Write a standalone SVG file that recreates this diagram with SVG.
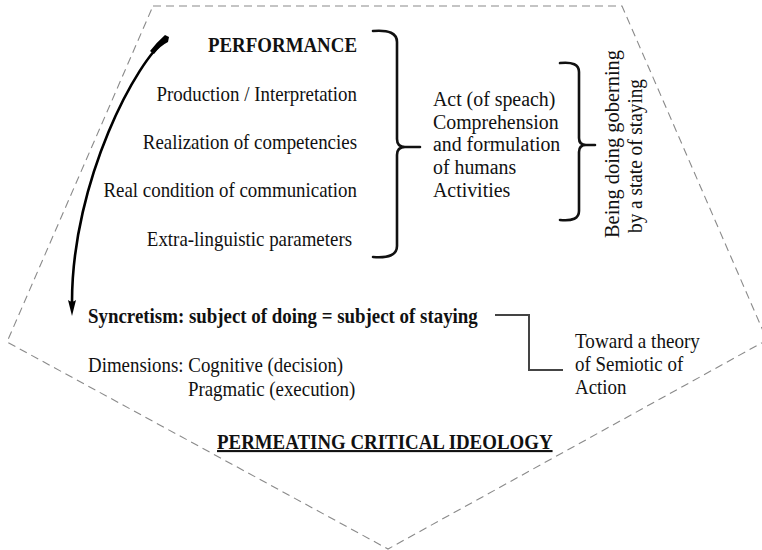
<svg xmlns="http://www.w3.org/2000/svg" width="762" height="550" viewBox="0 0 762 550">
  <style>
    .t { font-family: "Liberation Serif", "Times New Roman", serif; font-size: 21px; fill: #111; }
    .s { font-size: 20px; }
    .b { font-weight: bold; }
    .end { text-anchor: end; }
    .frame { fill: none; stroke: #8a8a8a; stroke-width: 1.1; stroke-dasharray: 8 5; }
    .brace { fill: none; stroke: #111; stroke-width: 2.6; stroke-linejoin: round; stroke-linecap: round; }
    .link { fill: none; stroke: #444; stroke-width: 2; }
    .curve { fill: none; stroke: #000; stroke-width: 2.6; }
  </style>
  <defs>
    <marker id="arrowhead" viewBox="0 0 16 9" refX="2" refY="4.5" markerWidth="16" markerHeight="9" markerUnits="userSpaceOnUse" orient="auto">
      <path d="M0,0.5 L16,4.5 L0,8.5 Q3,4.5 0,0.5 Z" fill="#000"/>
    </marker>
  </defs>

  <g id="frame">
    <polygon class="frame" points="153,6 622,6 767,340 388,549 7,342"/>
  </g>

  <g id="connectors">
    <path class="curve" d="M166,40 C138,58 72,180 72,302" marker-end="url(#arrowhead)"/>
    <path d="M150,51 Q157,42 165,35 L169,37 L168,42 Q160,46 154,54 Z" fill="#000"/>
    <path class="brace" d="M373,31 Q397,29 397,42 L397,139 Q397,147 405,147 L420,147 M405,147 Q397,147 397,155 L397,246 Q397,259 373,257"/>
    <path class="brace" d="M560,63 Q579,61 579,72 L579,138 Q579,145 586,145 L595,145 M586,145 Q579,145 579,152 L579,211 Q579,222 560,220"/>
    <polyline class="link" points="495,315 529,315 529,370 563,370"/>
  </g>

  <g id="performance" transform="translate(357 0) scale(0.9 1)">
    <text class="t b end" x="0" y="52">PERFORMANCE</text>
    <text class="t end" x="0" y="101" textLength="222.8" lengthAdjust="spacingAndGlyphs">Production / Interpretation</text>
    <text class="t end" x="0" y="149" textLength="238" lengthAdjust="spacingAndGlyphs">Realization of competencies</text>
    <text class="t end" x="0" y="197" textLength="281.7" lengthAdjust="spacingAndGlyphs">Real condition of communication</text>
    <text class="t end" x="-5.5" y="246" textLength="228" lengthAdjust="spacingAndGlyphs">Extra-linguistic parameters</text>
  </g>

  <g id="act" transform="translate(433 0) scale(0.945 1)">
    <text class="t s" x="0" y="106" textLength="129.4" lengthAdjust="spacingAndGlyphs">Act (of speach)</text>
    <text class="t s" x="0" y="129" textLength="133" lengthAdjust="spacingAndGlyphs">Comprehension</text>
    <text class="t s" x="0" y="151" textLength="134.7" lengthAdjust="spacingAndGlyphs">and formulation</text>
    <text class="t s" x="0" y="174" textLength="88" lengthAdjust="spacingAndGlyphs">of humans</text>
    <text class="t s" x="0" y="197" textLength="81.7" lengthAdjust="spacingAndGlyphs">Activities</text>
  </g>

  <g id="being">
    <text class="t" transform="translate(619 238) rotate(-90)" x="0" y="0" textLength="188" lengthAdjust="spacingAndGlyphs">Being doing goberning</text>
    <text class="t" transform="translate(642 233) rotate(-90)" x="0" y="0" textLength="154" lengthAdjust="spacingAndGlyphs">by a state of staying</text>
  </g>

  <g id="syncretism" transform="translate(88 0) scale(0.9 1)">
    <text class="t b" x="0" y="323">Syncretism: subject of doing = subject of staying</text>
    <text class="t" x="0" y="372" textLength="283.5" lengthAdjust="spacingAndGlyphs">Dimensions: Cognitive (decision)</text>
    <text class="t" x="111" y="396" textLength="186" lengthAdjust="spacingAndGlyphs">Pragmatic (execution)</text>
  </g>

  <g id="toward" transform="translate(575 0) scale(0.9 1)">
    <text class="t" x="0" y="348" textLength="138.8" lengthAdjust="spacingAndGlyphs">Toward a theory</text>
    <text class="t" x="0" y="371" textLength="120.2" lengthAdjust="spacingAndGlyphs">of Semiotic of</text>
    <text class="t" x="0" y="394" textLength="57.2" lengthAdjust="spacingAndGlyphs">Action</text>
  </g>

  <g id="ideology" transform="translate(217 0) scale(0.9 1)">
    <text class="t b" x="0" y="449" text-decoration="underline">PERMEATING CRITICAL IDEOLOGY</text>
  </g>
</svg>
